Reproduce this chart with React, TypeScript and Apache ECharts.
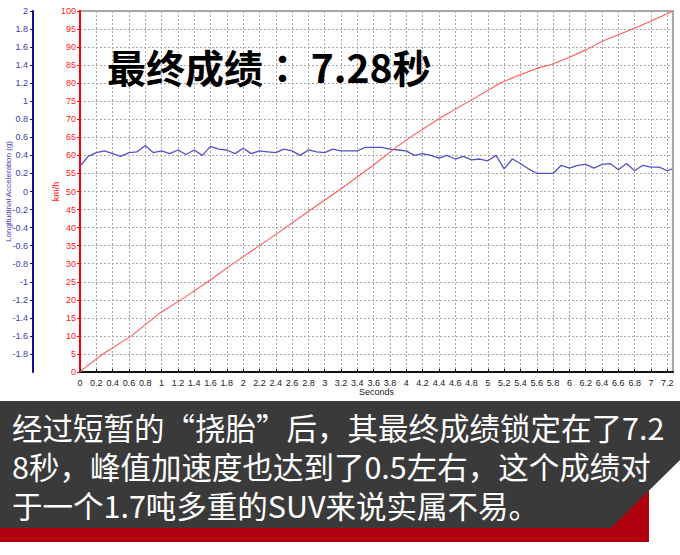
import React, { useEffect, useRef } from "react";
import * as echarts from "echarts";

const accelTimes = [
  0, 0.1, 0.2, 0.3, 0.4, 0.5, 0.6, 0.7, 0.8, 0.9,
  1.0, 1.1, 1.2, 1.3, 1.4, 1.5, 1.6, 1.7, 1.8, 1.9,
  2.0, 2.1, 2.2, 2.3, 2.4, 2.5, 2.6, 2.7, 2.8, 2.9,
  3.0, 3.1, 3.2, 3.3, 3.4, 3.5, 3.6, 3.7, 3.8, 3.9,
  4.0, 4.1, 4.2, 4.3, 4.4, 4.5, 4.6, 4.7, 4.8, 4.9,
  5.0, 5.1, 5.2, 5.3, 5.4, 5.5, 5.6, 5.7, 5.8, 5.9,
  6.0, 6.1, 6.2, 6.3, 6.4, 6.5, 6.6, 6.7, 6.8, 6.9,
  7.0, 7.1, 7.2, 7.26,
];
const accelG = [
  0.28, 0.39, 0.43, 0.45, 0.42, 0.39, 0.43, 0.44, 0.51, 0.43,
  0.45, 0.42, 0.46, 0.41, 0.46, 0.40, 0.50, 0.47, 0.46, 0.42,
  0.48, 0.42, 0.45, 0.44, 0.43, 0.47, 0.45, 0.40, 0.46, 0.44,
  0.43, 0.47, 0.45, 0.45, 0.45, 0.49, 0.49, 0.49, 0.47, 0.46,
  0.45, 0.40, 0.42, 0.40, 0.37, 0.40, 0.36, 0.39, 0.35, 0.36,
  0.34, 0.40, 0.25, 0.36, 0.31, 0.25, 0.20, 0.20, 0.20, 0.29,
  0.26, 0.29, 0.30, 0.26, 0.30, 0.31, 0.24, 0.31, 0.23, 0.29,
  0.27, 0.27, 0.23, 0.25,
];

const speedTimes = [
  0, 0.05, 0.28, 0.63, 0.99, 1.28, 1.61, 1.85, 2.2, 2.42, 2.82, 3.18, 3.59,
  3.84, 4.0, 4.41, 4.78, 5.15, 5.41, 5.6, 5.78, 6.0, 6.21, 6.41, 6.6, 6.8,
  7.03, 7.27,
];
const speedKmh = [
  0, 1, 5, 10, 16.5, 20.6, 25.7, 29.6, 35.0, 38.4, 44.8, 50.4, 57.2,
  61.6, 64.3, 70.3, 75.1, 80.0, 82.5, 84.1, 85.2, 87.2, 89.3, 91.7, 93.4, 95.2,
  97.5, 100,
];

const titleParts = ["最终成绩", "：", " 7.28秒"];
const captionLines = [
  "经过短暂的“挠胎”后，其最终成绩锁定在了7.2",
  "8秒，峰值加速度也达到了0.5左右，这个成绩对",
  "于一个1.7吨多重的SUV来说实属不易。",
];

const fmt1 = (v: number) => String(Math.round(v * 10) / 10);

export default function App() {
  const ref = useRef<HTMLDivElement>(null);
  useEffect(() => {
    if (!ref.current) return;
    const chart = echarts.init(ref.current, null, { renderer: "svg" });
    const accelData = accelTimes.map((t, i) => [t, accelG[i]]);
    const speedData = speedTimes.map((t, i) => [t, speedKmh[i]]);
    const dotted = { color: "#a8a8a8", type: [2, 2] as any, width: 1 };
    const axisFont = "Liberation Sans";
    const titleStyle = {
      fontSize: 39,
      fontWeight: "bold",
      fontFamily: "Noto Sans CJK SC",
      color: "#000",
    };
    chart.setOption({
      animation: false,
      backgroundColor: "#ffffff",
      grid: {
        left: 80,
        top: 11,
        right: 7,
        bottom: 183,
        containLabel: false,
        outerBoundsMode: "none",
        show: true,
        borderColor: "#8a8a8a",
        borderWidth: 1.5,
      },
      xAxis: {
        type: "value",
        min: 0,
        max: 7.27,
        interval: 0.2,
        name: "Seconds",
        nameLocation: "middle",
        nameGap: 15,
        nameMoveOverlap: false,
        nameTextStyle: { fontSize: 9, color: "#222", fontFamily: axisFont },
        axisLine: { show: true, lineStyle: { color: "#111", width: 2 } },
        axisTick: { show: true, inside: true, length: 3, lineStyle: { color: "#111" } },
        axisLabel: {
          fontSize: 9,
          color: "#222",
          margin: 6,
          fontFamily: axisFont,
          showMaxLabel: false,
          formatter: (v: number) => fmt1(v),
        },
        splitLine: { show: true, lineStyle: dotted },
      },
      yAxis: [
        {
          type: "value",
          position: "left",
          min: 0,
          max: 100,
          interval: 5,
          name: "km/h",
          nameLocation: "middle",
          nameRotate: 90,
          nameGap: 20,
          nameMoveOverlap: false,
          nameTextStyle: { fontSize: 9, color: "#ff2020", fontFamily: axisFont },
          axisLine: { show: true, onZero: false, lineStyle: { color: "#ff0000", width: 2 } },
          axisTick: { show: true, length: 3, lineStyle: { color: "#ff0000" } },
          axisLabel: { fontSize: 9, color: "#ff2020", margin: 4, fontFamily: axisFont },
          splitLine: { show: true, lineStyle: dotted },
        },
        {
          type: "value",
          position: "left",
          offset: 47,
          min: -2,
          max: 2,
          interval: 0.2,
          name: "Longitudinal Acceleration (g)",
          nameLocation: "middle",
          nameRotate: 90,
          nameGap: 21,
          nameMoveOverlap: false,
          nameTextStyle: { fontSize: 8, color: "#3c3cb4", fontFamily: axisFont },
          axisLine: { show: true, onZero: false, lineStyle: { color: "#10108a", width: 2 } },
          axisTick: { show: true, length: 3, lineStyle: { color: "#10108a" } },
          axisLabel: {
            fontSize: 9,
            color: "#3c3cb4",
            margin: 5,
            fontFamily: axisFont,
            showMinLabel: false,
            formatter: (v: number) => fmt1(v),
          },
          splitLine: { show: false },
        },
      ],
      series: [
        {
          type: "line",
          name: "accel",
          yAxisIndex: 1,
          data: accelData,
          showSymbol: false,
          symbol: "none",
          lineStyle: { color: "#5252c8", width: 1.3 },
          z: 3,
        },
        {
          type: "line",
          name: "speed",
          yAxisIndex: 0,
          data: speedData,
          showSymbol: false,
          symbol: "none",
          lineStyle: { color: "#ff5a5a", width: 1.1 },
          z: 4,
        },
      ],
      graphic: [
        {
          type: "text",
          x: 107,
          y: 66,
          z: 50,
          style: {
            text: `{a|${titleParts[0]}}{c|${titleParts[1]}}{a|${titleParts[2]}}`,
            fontSize: 39,
            fontWeight: "bold",
            fontFamily: "Noto Sans CJK SC",
            fill: "#000",
            verticalAlign: "middle",
            align: "left",
            rich: {
              a: titleStyle,
              c: { ...titleStyle, fontFamily: "Noto Sans CJK TC" },
            },
          },
        },
        {
          type: "rect",
          z: 40,
          shape: { x: 0, y: 480, width: 649, height: 62 },
          style: { fill: "#b0000e" },
        },
        {
          type: "polygon",
          z: 41,
          shape: {
            points: [
              [0, 401],
              [680, 401],
              [680, 460],
              [611, 528],
              [0, 528],
            ],
          },
          style: { fill: "#3a3a3a" },
        },
        {
          type: "text",
          x: 12,
          y: 466,
          z: 50,
          style: {
            text: captionLines.join("\n"),
            fontSize: 30.5,
            lineHeight: 39,
            fontFamily: "Noto Sans CJK SC",
            fill: "#ffffff",
            verticalAlign: "middle",
            align: "left",
          },
        },
      ],
    });
    return () => chart.dispose();
  }, []);
  return (
    <div
      ref={ref}
      style={{ position: "fixed", left: 0, top: 0, width: 680, height: 555, background: "#fff" }}
    />
  );
}
